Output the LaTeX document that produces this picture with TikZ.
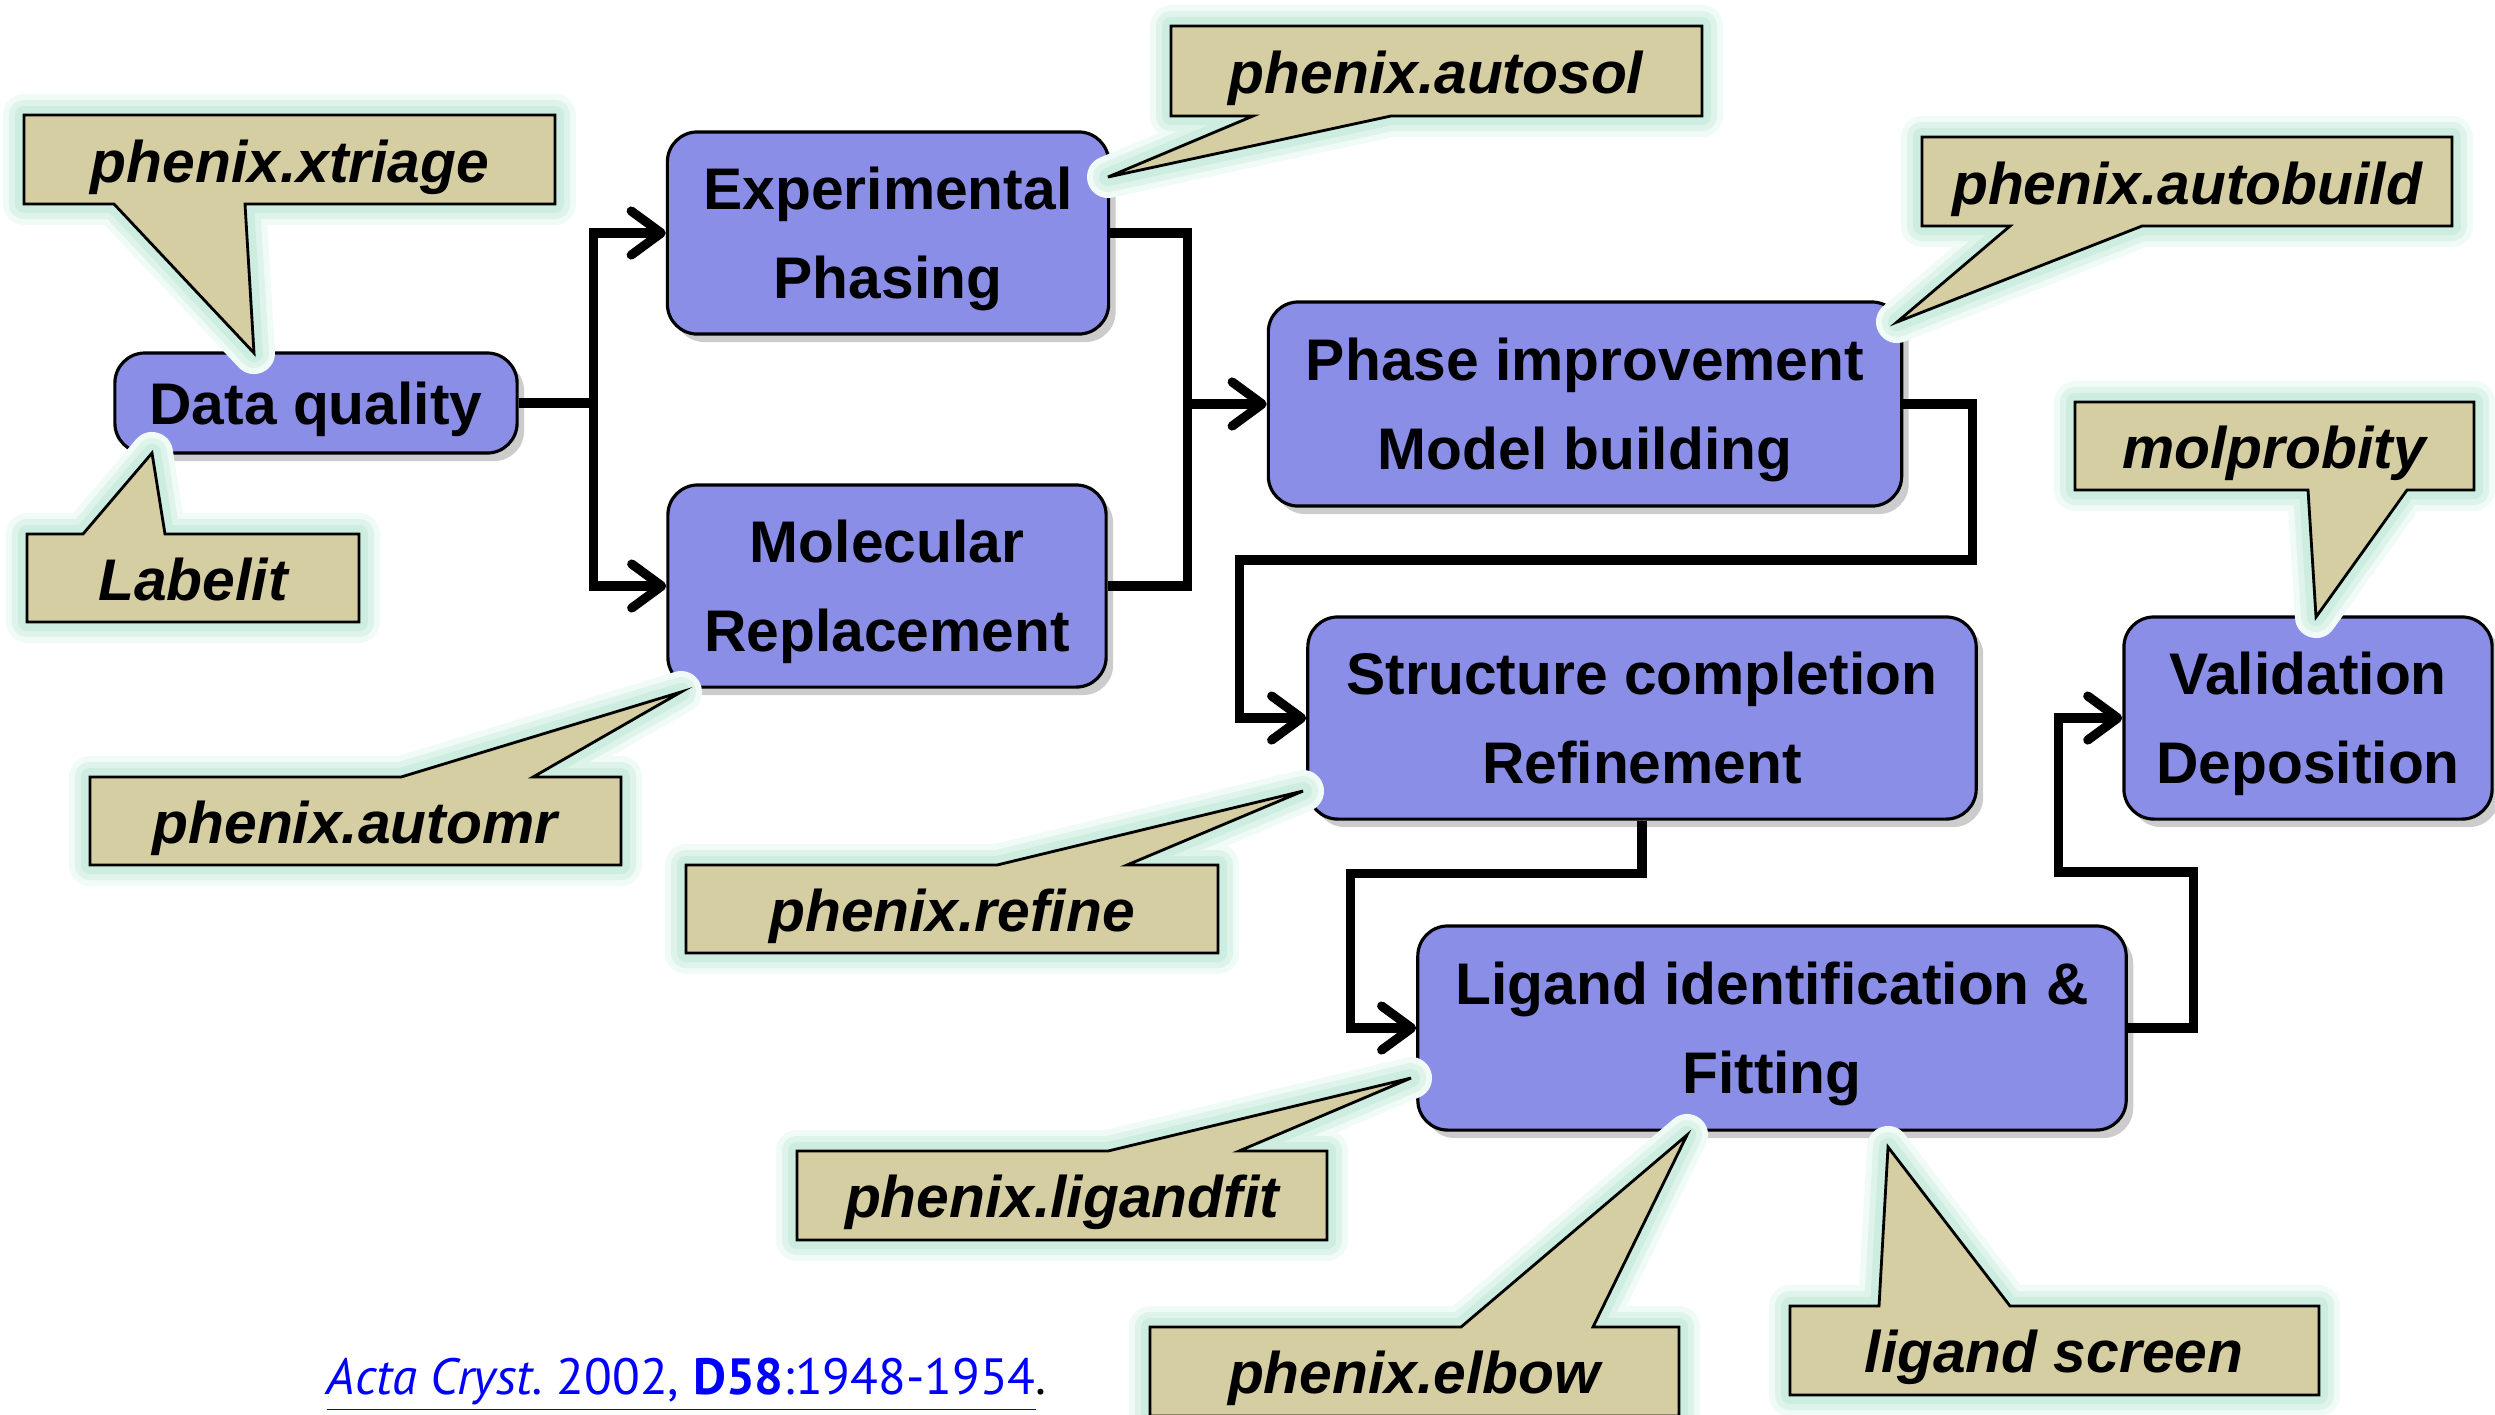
\documentclass[tikz,border=0pt]{standalone}
\usepackage{fontspec}
\setmainfont{Liberation Sans}
\newfontfamily\citefont{PT Sans}
\usepackage{tikz}
\usetikzlibrary{arrows.meta,shadows}

\definecolor{stageblue}{RGB}{138,142,230}
\definecolor{notefill}{RGB}{214,206,163}
\definecolor{glowin}{RGB}{204,237,224}
\definecolor{glowmid}{RGB}{222,244,235}
\definecolor{glowout}{RGB}{240,250,246}

\begin{document}
\begin{tikzpicture}[x=0.01cm,y=-0.01cm,
	stage/.style={draw=black, line width=0.9pt, fill=stageblue, rounded corners=0.3cm,
		align=center, inner sep=0pt, text depth=0pt, font=\bfseries\fontsize{16.7}{25.3}\selectfont,
		drop shadow={shadow xshift=0.07cm, shadow yshift=-0.08cm, opacity=0.4}},
	flow/.style={line width=2.6pt, line join=miter},
	arr/.style={-{Straight Barb[round, length=0.3cm, width=0.44cm]}},
	note/.style={fill=notefill, draw=black, line width=0.8pt,
		preaction={draw=glowout, line width=0.42cm, line join=round},
		preaction={draw=glowmid, line width=0.3cm, line join=round},
		preaction={draw=glowin, line width=0.18cm, line join=round}},
	notetext/.style={anchor=base, inner sep=0pt, font=\bfseries\itshape\fontsize{16.7}{20}\selectfont}]
	\useasboundingbox (0,0) rectangle (2495,1414);
	%
	\node[stage, minimum width=4.02cm, minimum height=1cm] (dq) at (316,403) {Data quality};
	\node[stage, minimum width=4.41cm, minimum height=2.02cm] (ep) at (888,233) {Experimental\\Phasing};
	\node[stage, minimum width=4.38cm, minimum height=2.02cm] (mr) at (887,586) {Molecular\\Replacement};
	\node[stage, minimum width=6.33cm, minimum height=2.04cm] (pi) at (1585,404) {Phase improvement\\Model building};
	\node[stage, minimum width=6.68cm, minimum height=2.02cm] (sc) at (1642,718) {Structure completion\\Refinement};
	\node[stage, minimum width=7.08cm, minimum height=2.04cm] (lf) at (1772,1028) {Ligand identification \&\\Fitting};
	\node[stage, minimum width=3.68cm, minimum height=2.02cm] (vd) at (2308,718) {Validation\\Deposition};
	%
	\draw[flow, arr] (dq.east) -- ++(75,0) |- (ep.west);
	\draw[flow, arr] (dq.east) -- ++(75,0) |- (mr.west);
	\draw[flow] (ep.east) -- ++(77,0) |- (mr.east);
	\draw[flow, arr] (pi.west) ++(-82,0) -- (pi.west);
	\draw[flow, arr] (pi.east) -- ++(69,0) -- ++(0,156) -| ([xshift=-0.67cm]sc.west) -- (sc.west);
	\draw[flow, arr] (sc.south) -- ++(0,53) -| ([xshift=-0.66cm]lf.west) -- (lf.west);
	\draw[flow, arr] (lf.east) -- ++(66,0) -- ++(0,-156) -| ([xshift=-0.64cm]vd.west) -- (vd.west);
	%
	\draw[note] (24,115) -- (555,115) -- (555,204) -- (245,204) -- (254,353) -- (114,204) -- (24,204) -- cycle;
	\node[notetext] (xtriage) at (290,182) {phenix.xtriage};
	\draw[note] (27,534) -- (83,534) -- (152,453) -- (165,534) -- (359,534) -- (359,622) -- (27,622) -- cycle;
	\node[notetext] (labelit) at (193,600) {Labelit};
	\draw[note] (1171,26) -- (1702,26) -- (1702,116) -- (1391,116) -- (1108,177) -- (1253,116) -- (1171,116) -- cycle;
	\node[notetext] (autosol) at (1436,93) {phenix.autosol};
	\draw[note] (1922,137) -- (2452,137) -- (2452,226) -- (2142,226) -- (1897,322) -- (2010,226) -- (1922,226) -- cycle;
	\node[notetext] (autobuild) at (2187,204) {phenix.autobuild};
	\draw[note] (2075,402) -- (2474,402) -- (2474,490) -- (2407,490) -- (2316,617) -- (2308,490) -- (2075,490) -- cycle;
	\node[notetext] (molprobity) at (2274,468) {molprobity};
	\draw[note] (90,777) -- (401,777) -- (681,692) -- (533,777) -- (621,777) -- (621,865) -- (90,865) -- cycle;
	\node[notetext] (automr) at (355,843) {phenix.automr};
	\draw[note] (686,865) -- (997,865) -- (1303,791) -- (1127,865) -- (1218,865) -- (1218,953) -- (686,953) -- cycle;
	\node[notetext] (refine) at (952,931) {phenix.refine};
	\draw[note] (797,1151) -- (1108,1151) -- (1411,1078) -- (1239,1151) -- (1327,1151) -- (1327,1240) -- (797,1240) -- cycle;
	\node[notetext] (ligandfit) at (1062,1217) {phenix.ligandfit};
	\draw[note] (1150,1327) -- (1461,1327) -- (1687,1135) -- (1593,1327) -- (1679,1327) -- (1679,1416) -- (1150,1416) -- cycle;
	\node[notetext] (elbow) at (1414,1393) {phenix.elbow};
	\draw[note] (1790,1306) -- (1879,1306) -- (1888,1147) -- (2010,1306) -- (2319,1306) -- (2319,1395) -- (1790,1395) -- cycle;
	\node[notetext] (screen) at (2054,1372) {ligand screen};
	%
	\node[anchor=base west, inner sep=0pt, font=\citefont\fontsize{14.5}{18}\selectfont] (cite) at (326,1394)
		{\textcolor{blue}{\underline{\textit{Acta Cryst.}\ 2002, \textbf{D58}:1948-1954}}.};
\end{tikzpicture}
\end{document}
